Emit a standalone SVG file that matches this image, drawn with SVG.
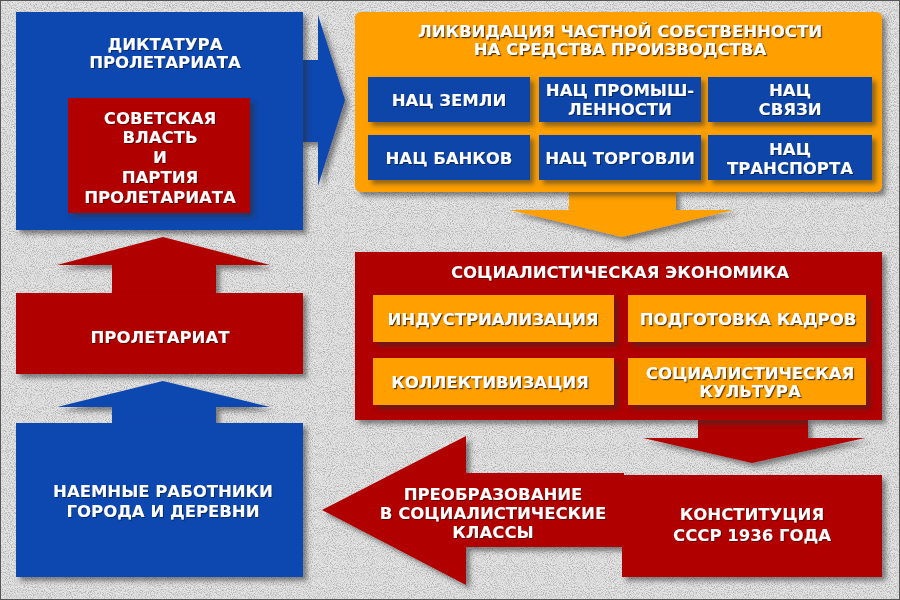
<svg xmlns="http://www.w3.org/2000/svg" width="900" height="600" viewBox="0 0 900 600">
<defs>
<filter id="noise" x="0" y="0" width="100%" height="100%">
<feTurbulence type="fractalNoise" baseFrequency="0.95" numOctaves="2" seed="7" result="t"/>
<feColorMatrix in="t" type="matrix" values="0 0 0 0 0.4  0 0 0 0 0.4  0 0 0 0 0.4  3 0 0 0 -1.3"/>
</filter>
<filter id="sh" x="-10%" y="-10%" width="125%" height="130%">
<feDropShadow dx="4" dy="4" stdDeviation="2.5" flood-color="#333" flood-opacity="0.55"/>
</filter>
<filter id="tsh" x="-5%" y="-20%" width="115%" height="150%">
<feDropShadow dx="1.2" dy="1.2" stdDeviation="0.6" flood-color="#3a2000" flood-opacity="0.85"/>
</filter>
<filter id="tsw" x="-5%" y="-20%" width="115%" height="150%">
<feDropShadow dx="1" dy="1" stdDeviation="0.5" flood-color="#000" flood-opacity="0.45"/>
</filter>
</defs>
<style>
text{font-family:"DejaVu Sans","Liberation Sans",sans-serif;font-weight:bold;font-size:16.5px;fill:#fff;text-anchor:middle;filter:url(#tsw)}
.blue{fill:#0c46b0}
.red{fill:#b00000}
.orange{fill:#ffa000}
.sub{fill:#0a45a8}
.box{filter:url(#sh)}
text.ts{filter:url(#tsh)}
</style>
<rect x="0" y="0" width="900" height="600" fill="#e4e4e4"/>
<rect x="0" y="0" width="900" height="600" filter="url(#noise)" opacity="0.9"/>
<rect x="0.5" y="0.5" width="899" height="599" fill="none" stroke="#555" stroke-width="1"/>

<g id="connectors">
<polygon class="blue box" points="300,60 318,60 318,15 345,100 318,186 318,142 300,142"/>
<polygon class="orange box" points="569,190 676,190 676,210 733,210 622,237 510,210 569,210"/>
<polygon class="red box" points="698,418 808,418 808,438 865,438 752,463 643,438 698,438"/>
<polygon class="red box" points="112,295 112,265 57,265 163,237 270,265 216,265 216,295"/>
<polygon class="blue box" points="112,425 112,407 57,407 163,381 270,407 216,407 216,425"/>
</g>

<g id="dictatorship">
<rect class="blue box" x="16" y="12" width="287" height="218"/>
<text x="165" y="50">ДИКТАТУРА</text>
<text x="165" y="68">ПРОЛЕТАРИАТА</text>
</g>
<g id="soviet-power">
<rect class="red box" x="68" y="98" width="182" height="115"/>
<text x="160" y="124">СОВЕТСКАЯ</text>
<text x="160" y="143">ВЛАСТЬ</text>
<text x="160" y="163">И</text>
<text x="160" y="183">ПАРТИЯ</text>
<text x="160" y="203">ПРОЛЕТАРИАТА</text>
</g>
<g id="proletariat">
<rect class="red box" x="16" y="293" width="287" height="81"/>
<text x="160" y="343">ПРОЛЕТАРИАТ</text>
</g>
<g id="workers">
<rect class="blue box" x="16" y="423" width="287" height="154"/>
<text x="163" y="497">НАЕМНЫЕ РАБОТНИКИ</text>
<text x="163" y="517">ГОРОДА И ДЕРЕВНИ</text>
</g>

<g id="liquidation">
<rect class="orange box" x="355" y="12" width="527" height="180" rx="6"/>
<text class="ts" x="620" y="37">ЛИКВИДАЦИЯ ЧАСТНОЙ СОБСТВЕННОСТИ</text>
<text class="ts" x="620" y="55">НА СРЕДСТВА ПРОИЗВОДСТВА</text>
</g>
<g id="nat-land">
<rect class="sub box" x="368" y="77" width="162" height="45"/>
<text x="449" y="106">НАЦ ЗЕМЛИ</text>
</g>
<g id="nat-industry">
<rect class="sub box" x="539" y="77" width="162" height="45"/>
<text x="620" y="96">НАЦ ПРОМЫШ-</text>
<text x="620" y="115">ЛЕННОСТИ</text>
</g>
<g id="nat-communications">
<rect class="sub box" x="708" y="77" width="164" height="45"/>
<text x="790" y="96">НАЦ</text>
<text x="790" y="115">СВЯЗИ</text>
</g>
<g id="nat-banks">
<rect class="sub box" x="368" y="135" width="162" height="45"/>
<text x="449" y="164">НАЦ БАНКОВ</text>
</g>
<g id="nat-trade">
<rect class="sub box" x="539" y="135" width="162" height="45"/>
<text x="620" y="164">НАЦ ТОРГОВЛИ</text>
</g>
<g id="nat-transport">
<rect class="sub box" x="708" y="135" width="164" height="45"/>
<text x="790" y="155">НАЦ</text>
<text x="790" y="174">ТРАНСПОРТА</text>
</g>

<g id="socialist-economy">
<rect class="red box" x="355" y="252" width="527" height="168"/>
<text x="620" y="278">СОЦИАЛИСТИЧЕСКАЯ ЭКОНОМИКА</text>
</g>
<g id="industrialization">
<rect class="orange box" x="373" y="295" width="241" height="47"/>
<text class="ts" x="493" y="325">ИНДУСТРИАЛИЗАЦИЯ</text>
</g>
<g id="training">
<rect class="orange box" x="628" y="295" width="238" height="47"/>
<text class="ts" x="748" y="325">ПОДГОТОВКА КАДРОВ</text>
</g>
<g id="collectivization">
<rect class="orange box" x="373" y="358" width="241" height="47"/>
<text class="ts" x="490" y="388">КОЛЛЕКТИВИЗАЦИЯ</text>
</g>
<g id="culture">
<rect class="orange box" x="628" y="358" width="238" height="47"/>
<text class="ts" x="750" y="379">СОЦИАЛИСТИЧЕСКАЯ</text>
<text class="ts" x="750" y="397">КУЛЬТУРА</text>
</g>

<g id="transformation">
<polygon class="red box" points="624,473 466,473 466,436 322,510 466,585 466,547 624,547"/>
<text x="493" y="500">ПРЕОБРАЗОВАНИЕ</text>
<text x="493" y="519">В СОЦИАЛИСТИЧЕСКИЕ</text>
<text x="493" y="538">КЛАССЫ</text>
</g>
<g id="constitution">
<rect class="red box" x="622" y="475" width="260" height="102"/>
<text x="752" y="520">КОНСТИТУЦИЯ</text>
<text x="752" y="541">СССР 1936 ГОДА</text>
</g>
</svg>
